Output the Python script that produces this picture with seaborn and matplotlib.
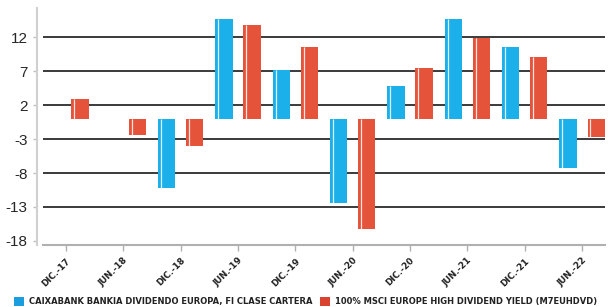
import matplotlib
matplotlib.use("Agg")
import matplotlib.pyplot as plt
import seaborn as sns
import pandas as pd
import numpy as np
from matplotlib.patches import Patch

categories = ["DIC.-17", "JUN.-18", "DIC.-18", "JUN.-19", "DIC.-19",
              "JUN.-20", "DIC.-20", "JUN.-21", "DIC.-21", "JUN.-22"]
series_names = ["CAIXABANK BANKIA DIVIDENDO EUROPA, FI CLASE CARTERA",
                "100% MSCI EUROPE HIGH DIVIDEND YIELD (M7EUHDVD)"]
fund_values = [0, 0, -10.2, 14.7, 7.1, -12.4, 4.8, 14.7, 10.5, -7.2]
index_values = [2.95, -2.4, -4.0, 13.8, 10.6, -16.3, 7.5, 11.9, 9.1, -2.7]
y_ticks = [12, 7, 2, -3, -8, -13, -18]

colors = ["#1BB0EA", "#E5533B"]
legend_colors = ["#1A9EE0", "#D9432F"]

df = pd.DataFrame({
    "cat": categories * 2,
    "serie": [series_names[0]] * len(categories) + [series_names[1]] * len(categories),
    "value": fund_values + index_values,
})

sns.set_theme(style="white")
plt.rcParams["font.family"] = ["Liberation Sans", "DejaVu Sans"]

W, H = 615, 307
fig = plt.figure(figsize=(W / 100, H / 100), dpi=100)
ax = fig.add_axes([43 / W, 1 - 245 / H, (605 - 43) / W, (245 - 8) / H])

for y in y_ticks[:-1]:
    ax.axhline(y, color="#3a3a3a", lw=1.4, zorder=0)

sns.barplot(data=df, x="cat", y="value", hue="serie", order=categories,
            hue_order=series_names, palette=colors, width=0.98, gap=0.39,
            saturation=1, ax=ax, legend=False, zorder=2, linewidth=0)

# subtle highlight stripe near the left edge of each bar
for p in list(ax.patches):
    h = p.get_height()
    if h == 0 or np.isnan(h):
        continue
    x0 = p.get_x() + p.get_width() * 0.17
    ax.vlines(x0, p.get_y(), p.get_y() + h, color="white", lw=0.9,
              alpha=0.85, zorder=3)

ax.set_xlim(-0.4, 9.4)
ax.set_ylim(-18.6, 16.3)
ax.set_yticks(y_ticks)
ax.set_yticklabels([str(t) for t in y_ticks], fontsize=8.5, color="#222222")
ax.set_xticks(range(len(categories)))
ax.set_xticklabels(categories, rotation=45, ha="right", va="top",
                   rotation_mode="anchor", fontsize=6.3,
                   family=["Liberation Sans Narrow", "DejaVu Sans"],
                   fontweight="bold", color="#222222")
ax.set_xlabel("")
ax.set_ylabel("")

for s in ["top", "right"]:
    ax.spines[s].set_visible(False)
ax.spines["left"].set_position(("outward", 4))
ax.spines["left"].set_color("#d0d0d0")
ax.spines["left"].set_linewidth(1.5)
ax.spines["bottom"].set_color("#b0b0b0")
ax.spines["bottom"].set_linewidth(1.5)
ax.tick_params(axis="y", length=3, width=1, color="#c0c0c0", pad=4, left=True)
ax.tick_params(axis="x", length=4, width=1, color="#b0b0b0", pad=4, bottom=True)

handles = [Patch(facecolor=c, edgecolor="none") for c in legend_colors]
leg = fig.legend(handles, series_names, loc="lower left", ncol=2,
                 bbox_to_anchor=(6 / W, -0.022), frameon=False,
                 handlelength=1.2, handleheight=1.2, handletextpad=0.6,
                 columnspacing=0.9,
                 prop={"family": ["Liberation Sans Narrow", "DejaVu Sans"],
                       "weight": "bold", "size": 6.05})
for t in leg.get_texts():
    t.set_color("#222222")

fig.savefig("out.png", dpi=100)
